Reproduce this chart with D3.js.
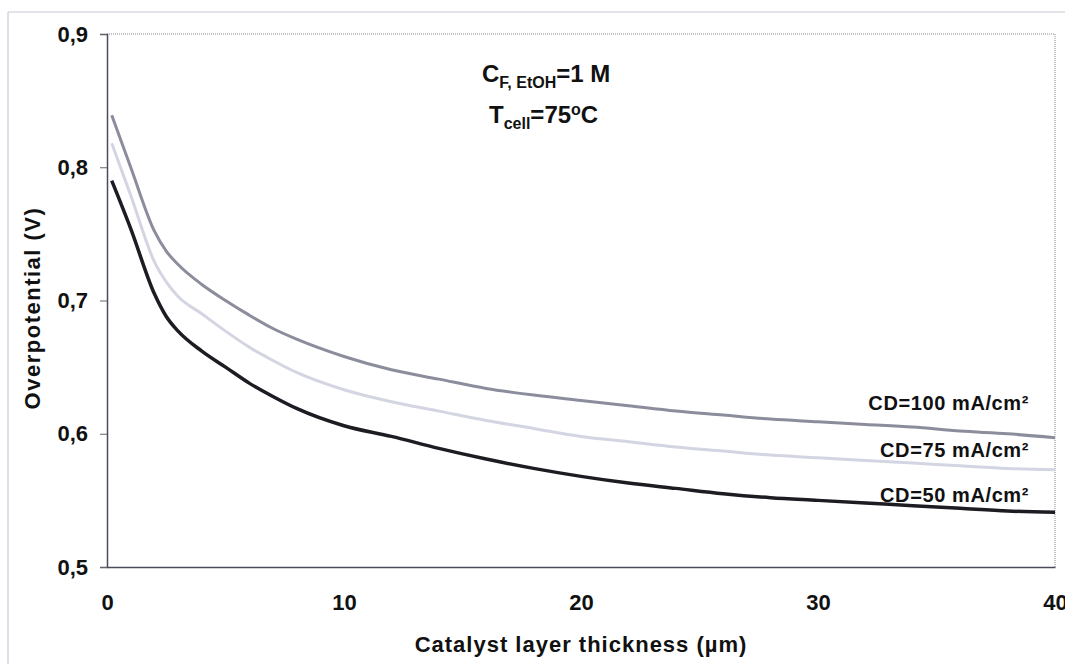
<!DOCTYPE html>
<html>
<head>
<meta charset="utf-8">
<script src="https://cdn.jsdelivr.net/npm/d3@7"></script>
<style>
  html, body { margin: 0; padding: 0; background: #fff; }
  svg { display: block; }
  text { font-family: "Liberation Sans", Arial, sans-serif; font-weight: bold; fill: #111; }
</style>
</head>
<body>
<svg id="chart" width="1065" height="664"></svg>
<script>
// ---- data ----
const thickness = [0.2, 1, 2, 2.5, 3, 4, 5, 6, 7, 8, 10, 12, 14, 16, 18, 20, 22, 24, 26, 28, 30, 32, 34, 36, 38, 40];
const cd100 = [0.839, 0.800, 0.752, 0.737, 0.727, 0.712, 0.700, 0.689, 0.679, 0.671, 0.658, 0.648, 0.641, 0.634, 0.629, 0.625, 0.621, 0.617, 0.614, 0.611, 0.609, 0.607, 0.605, 0.602, 0.600, 0.597];
const cd75  = [0.818, 0.779, 0.729, 0.714, 0.703, 0.690, 0.677, 0.665, 0.655, 0.646, 0.633, 0.624, 0.617, 0.610, 0.604, 0.598, 0.594, 0.590, 0.587, 0.584, 0.582, 0.580, 0.578, 0.576, 0.574, 0.573];
const cd50  = [0.790, 0.754, 0.705, 0.688, 0.677, 0.662, 0.650, 0.638, 0.628, 0.619, 0.606, 0.598, 0.589, 0.581, 0.574, 0.568, 0.563, 0.559, 0.555, 0.552, 0.550, 0.548, 0.546, 0.544, 0.542, 0.541];
const seriesNames = ["CD=100 mA/cm²", "CD=75 mA/cm²", "CD=50 mA/cm²"];
const xTicks = [0, 10, 20, 30, 40];
const yTicks = [0.5, 0.6, 0.7, 0.8, 0.9];
const xTitle = "Catalyst layer thickness (µm)";
const yTitle = "Overpotential (V)";

// ---- layout ----
const svg = d3.select("#chart");
const L = 107, R = 1055, T = 34, B = 567;
const x = d3.scaleLinear().domain([0, 40]).range([L, R]);
const y = d3.scaleLinear().domain([0.5, 0.9]).range([B, T]);

// outer frame lines
svg.append("line").attr("x1", 8).attr("x2", 1065).attr("y1", 12).attr("y2", 12)
  .attr("stroke", "#c8cad6").attr("stroke-width", 1.2);
svg.append("line").attr("x1", 8).attr("x2", 8).attr("y1", 12).attr("y2", 664)
  .attr("stroke", "#c8cad6").attr("stroke-width", 1.2);

// dotted top/right borders
svg.append("line").attr("x1", L).attr("x2", R).attr("y1", T).attr("y2", T)
  .attr("stroke", "#888").attr("stroke-width", 1).attr("stroke-dasharray", "1,1");
svg.append("line").attr("x1", R).attr("x2", R).attr("y1", T).attr("y2", B)
  .attr("stroke", "#888").attr("stroke-width", 1).attr("stroke-dasharray", "1,1");

// axes
const yAxis = svg.append("g").attr("transform", `translate(${L},0)`)
  .call(d3.axisLeft(y).tickValues(yTicks).tickSize(7).tickPadding(12)
    .tickFormat(d => d3.format(".1f")(d).replace(".", ",")));
yAxis.select(".domain").attr("stroke", "#4a4c5e").attr("stroke-width", 1.5);
yAxis.selectAll(".tick line").attr("stroke", "#666");
yAxis.selectAll("text").style("font-size", "22px").style("font-weight", "bold")
  .attr("fill", "#111").attr("font-family", null);

const xAxis = svg.append("g").attr("transform", `translate(0,${B})`)
  .call(d3.axisBottom(x).tickValues(xTicks).tickSize(0).tickPadding(27).tickFormat(d3.format("d")));
xAxis.select(".domain").attr("stroke", "#4a4c5e").attr("stroke-width", 1.5);
xAxis.selectAll("text").style("font-size", "22px").style("font-weight", "bold")
  .attr("fill", "#111").attr("font-family", null);

// lines
const line = d3.line().x((d, i) => x(thickness[i])).y(d => y(d)).curve(d3.curveMonotoneX);
const series = [
  {vals: cd75, color: "#d4d5e2", w: 3},
  {vals: cd100, color: "#8c8d9c", w: 3},
  {vals: cd50, color: "#1c1c22", w: 3.5}
];
series.forEach(s => {
  svg.append("path").datum(s.vals).attr("d", line)
    .attr("fill", "none").attr("stroke", s.color).attr("stroke-width", s.w)
    .attr("stroke-linejoin", "round");
});

// series labels
const labelY = [410, 457, 502];
seriesNames.forEach((n, i) => {
  svg.append("text").attr("x", 1029).attr("y", labelY[i]).attr("text-anchor", "end")
    .style("font-size", "20px").style("letter-spacing", "0.6px").text(n);
});

// annotations
const a1 = svg.append("text").attr("x", 482).attr("y", 82).style("font-size", "24px");
a1.append("tspan").text("C");
a1.append("tspan").attr("dy", 6).style("font-size", "16px").text("F, EtOH");
a1.append("tspan").attr("dy", -6).text("=1 M");
const a2 = svg.append("text").attr("x", 489).attr("y", 123).style("font-size", "24px");
a2.append("tspan").text("T");
a2.append("tspan").attr("dy", 6).style("font-size", "16px").text("cell");
a2.append("tspan").attr("dy", -6).text("=75");
a2.append("tspan").attr("dy", -8).style("font-size", "16px").text("o");
a2.append("tspan").attr("dy", 8).text("C");

// axis titles
svg.append("text").attr("x", 581).attr("y", 652).attr("text-anchor", "middle")
  .style("font-size", "22px").style("letter-spacing", "1px").text(xTitle);
svg.append("text").attr("transform", "translate(40,308) rotate(-90)").attr("text-anchor", "middle")
  .style("font-size", "22px").style("letter-spacing", "1.5px").text(yTitle);
</script>
</body>
</html>
